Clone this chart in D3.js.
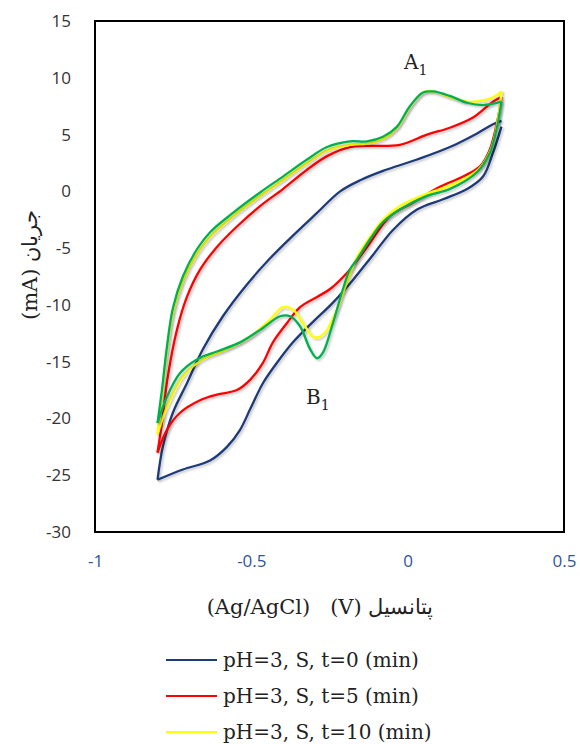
<!DOCTYPE html>
<html>
<head>
<meta charset="utf-8">
<script src="https://cdn.jsdelivr.net/npm/d3@7"></script>
<style>
  body { margin: 0; background: #fff; }
  svg { display: block; }
  text { white-space: pre; }
</style>
</head>
<body>
<div id="chart"></div>
<script>
// potential (V) / current (mA) pairs, one array per branch
const t0Upper = [[-0.80,-25.4],[-0.783,-22.5],[-0.751,-19.5],[-0.706,-16.9],[-0.655,-13.9],[-0.591,-11.0],
  [-0.514,-8.2],[-0.44,-5.9],[-0.367,-3.9],[-0.29,-1.9],[-0.216,0.0],[-0.15,1.0],[-0.079,1.8],
  [0.03,2.8],[0.135,3.9],[0.222,5.1],[0.273,5.9],[0.30,6.2]];
const t0Lower = [[0.30,5.7],[0.273,3.4],[0.241,1.3],[0.19,0.2],[0.113,-0.7],[0.03,-1.6],[-0.047,-3.4],
  [-0.111,-5.6],[-0.175,-7.8],[-0.239,-9.8],[-0.303,-11.5],[-0.367,-13.3],[-0.418,-15.1],[-0.463,-16.9],
  [-0.504,-19.2],[-0.536,-21.0],[-0.578,-22.5],[-0.632,-23.7],[-0.719,-24.5],[-0.80,-25.4]];

const t5Upper = [[-0.80,-23.0],[-0.786,-20.4],[-0.767,-16.3],[-0.738,-12.2],[-0.706,-9.3],[-0.664,-6.9],
  [-0.61,-4.9],[-0.546,-3.1],[-0.472,-1.3],[-0.399,0.2],[-0.322,1.9],[-0.258,3.1],[-0.185,3.9],
  [-0.13,4.0],[-0.025,4.1],[0.062,5.0],[0.135,5.6],[0.209,6.5],[0.273,7.9],[0.30,8.3]];
const t5Lower = [[0.30,8.3],[0.286,6.1],[0.263,3.7],[0.231,2.2],[0.177,1.3],[0.103,0.4],[0.017,-1.0],
  [-0.057,-2.2],[-0.13,-4.9],[-0.185,-6.9],[-0.248,-8.6],[-0.29,-9.3],[-0.344,-10.2],[-0.386,-11.6],
  [-0.431,-13.3],[-0.463,-15.1],[-0.504,-16.6],[-0.546,-17.5],[-0.61,-17.9],[-0.664,-18.4],
  [-0.728,-19.5],[-0.77,-21.0],[-0.80,-23.0]];

const t10Upper = [[-0.80,-21.4],[-0.786,-18.0],[-0.77,-14.1],[-0.751,-10.7],[-0.719,-7.9],[-0.674,-5.5],
  [-0.632,-4.0],[-0.559,-2.2],[-0.472,-0.4],[-0.399,1.0],[-0.322,2.5],[-0.258,3.6],[-0.185,4.1],
  [-0.13,4.2],[-0.079,4.6],[-0.034,5.6],[0.007,7.4],[0.049,8.7],[0.081,8.8],[0.135,8.3],[0.19,7.9],
  [0.241,8.0],[0.275,8.3],[0.30,8.8]];
const t10Lower = [[0.30,8.8],[0.289,6.4],[0.266,3.7],[0.225,1.9],[0.135,0.5],[0.062,-0.2],[-0.025,-1.3],
  [-0.079,-2.5],[-0.12,-4.0],[-0.162,-5.8],[-0.194,-8.0],[-0.226,-10.4],[-0.258,-12.2],[-0.28,-12.8],
  [-0.303,-12.8],[-0.335,-11.6],[-0.367,-10.4],[-0.399,-10.2],[-0.44,-11.3],[-0.504,-12.8],
  [-0.578,-13.9],[-0.655,-14.8],[-0.719,-16.3],[-0.77,-19.0],[-0.80,-21.4]];

const t15Upper = [[-0.80,-20.4],[-0.786,-17.5],[-0.77,-13.7],[-0.751,-10.3],[-0.719,-7.5],[-0.674,-5.1],
  [-0.632,-3.6],[-0.559,-1.9],[-0.472,-0.1],[-0.399,1.3],[-0.322,2.8],[-0.258,3.9],[-0.185,4.4],
  [-0.13,4.4],[-0.079,4.8],[-0.034,5.7],[0.007,7.5],[0.049,8.7],[0.081,8.8],[0.135,8.4],[0.19,7.8],
  [0.241,7.6],[0.30,7.9]];
const t15Lower = [[0.30,7.9],[0.286,5.7],[0.263,3.4],[0.222,1.7],[0.135,0.2],[0.062,-0.4],[-0.025,-1.6],
  [-0.079,-2.7],[-0.12,-4.2],[-0.162,-6.0],[-0.185,-6.9],[-0.207,-8.6],[-0.239,-11.6],[-0.271,-14.2],
  [-0.29,-14.7],[-0.312,-13.9],[-0.344,-11.9],[-0.376,-11.0],[-0.408,-11.0],[-0.472,-12.2],
  [-0.536,-13.3],[-0.61,-14.1],[-0.674,-14.8],[-0.728,-16.0],[-0.77,-18.1],[-0.80,-20.4]];

const seriesNames = ["pH=3, S, t=0 (min)", "pH=3, S, t=5 (min)", "pH=3, S, t=10 (min)", "pH=3, S, t=15 (min)"];
const seriesColors = ["#1f3a78", "#ff0000", "#ffff00", "#00b050"];
const seriesBranches = [[t0Upper, t0Lower], [t5Upper, t5Lower], [t10Upper, t10Lower], [t15Upper, t15Lower]];

const xTicks = [-1, -0.5, 0, 0.5];
const yTicks = [-30, -25, -20, -15, -10, -5, 0, 5, 10, 15];

const width = 580, height = 744;
const svg = d3.select("#chart").append("svg")
  .attr("width", width)
  .attr("height", height);

const x = d3.scaleLinear().domain([-1, 0.5]).range([95, 564]);
const y = d3.scaleLinear().domain([-30, 15]).range([532, 21]);

// soft shadow like the original office chart
const defs = svg.append("defs");
defs.append("filter").attr("id", "shadow")
  .attr("x", "-10%").attr("y", "-10%").attr("width", "120%").attr("height", "120%")
  .append("feDropShadow")
  .attr("dx", 1.5).attr("dy", 1.5).attr("stdDeviation", 1)
  .attr("flood-color", "#000").attr("flood-opacity", 0.25);

// frame
svg.append("rect")
  .attr("x", x(-1)).attr("y", y(15))
  .attr("width", x(0.5) - x(-1)).attr("height", y(-30) - y(15))
  .attr("fill", "#fff").attr("stroke", "#000").attr("stroke-width", 2);

const xAxis = svg.append("g")
  .attr("transform", "translate(0," + y(-30) + ")")
  .call(d3.axisBottom(x).tickValues(xTicks).tickSize(0).tickPadding(23).tickFormat(d => String(d)));
xAxis.select(".domain").remove();
xAxis.selectAll("text")
  .attr("font-family", "'Open Sans', sans-serif")
  .attr("font-size", 17)
  .attr("fill", "#2f5597");

const yAxis = svg.append("g")
  .attr("transform", "translate(" + x(-1) + ",0)")
  .call(d3.axisLeft(y).tickValues(yTicks).tickSize(0).tickPadding(24).tickFormat(d => String(d)));
yAxis.select(".domain").remove();
yAxis.selectAll("text")
  .attr("font-family", "'Open Sans', sans-serif")
  .attr("font-size", 17)
  .attr("fill", "#333");

// curves
const line = d3.line()
  .x(d => x(d[0]))
  .y(d => y(d[1]))
  .curve(d3.curveCatmullRom.alpha(0.5));

seriesBranches.forEach(function(branches, i){
  for ( let b of branches ){
    svg.append("path")
      .datum(b)
      .attr("d", line)
      .attr("fill", "none")
      .attr("stroke", seriesColors[i])
      .attr("stroke-width", 2.3)
      .attr("stroke-linejoin", "round")
      .attr("filter", "url(#shadow)");
  }
});

// peak labels
function peakLabel(letter, px, py){
  let t = svg.append("text")
    .attr("x", px).attr("y", py)
    .attr("font-family", "'DejaVu Serif', serif")
    .attr("font-size", 20)
    .attr("fill", "#222");
  t.append("tspan").text(letter);
  t.append("tspan").attr("font-size", 14).attr("dy", 6).text("1");
}
peakLabel("A", 404, 69);
peakLabel("B", 306, 404);

// axis titles
svg.append("text")
  .attr("x", 320).attr("y", 614)
  .attr("text-anchor", "middle")
  .attr("font-family", "'DejaVu Serif', serif")
  .attr("font-size", 21)
  .attr("fill", "#222")
  .text("(Ag/AgCl)   (V) پتانسیل");

svg.append("text")
  .attr("transform", "translate(37,265) rotate(-90)")
  .attr("text-anchor", "middle")
  .attr("font-family", "'DejaVu Serif', serif")
  .attr("font-size", 21)
  .attr("fill", "#222")
  .text("(mA) جریان");

// legend
const legend = svg.append("g");
seriesNames.forEach(function(name, i){
  let ly = 660 + i * 36;
  legend.append("line")
    .attr("x1", 166).attr("x2", 217)
    .attr("y1", ly).attr("y2", ly)
    .attr("stroke", seriesColors[i])
    .attr("stroke-width", 2);
  legend.append("text")
    .attr("x", 223).attr("y", ly + 7)
    .attr("font-family", "'DejaVu Serif', serif")
    .attr("font-size", 20)
    .attr("fill", "#222")
    .text(name);
});
</script>
</body>
</html>
